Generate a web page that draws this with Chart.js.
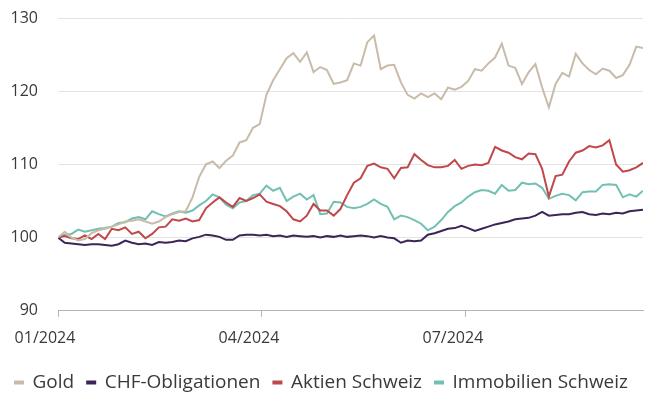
<!DOCTYPE html>
<html>
<head>
<meta charset="utf-8">
<script src="https://cdn.jsdelivr.net/npm/chart.js@4.4.1/dist/chart.umd.min.js"></script>
<style>
  body { margin: 0; background: #fff; }
  #wrap { width: 650px; height: 406px; }
</style>
</head>
<body>
<div id="wrap"><canvas id="perfChart" width="650" height="406"></canvas></div>
<script>
// days since 01.01.2024, one value every 3 days
const days = [];
for (let d = 0; d <= 261; d += 3) days.push(d);

const tickDays = [0, 91, 182];
const tickLabels = ['01/2024', '04/2024', '07/2024'];

const gold = [
  100, 100.8, 100, 99.6, 99.8, 100.6, 101, 101.2, 101.5, 101.8,
  102.2, 102.3, 102.5, 102.2, 101.9, 102.2, 102.8, 103.2, 103.5, 103.6,
  105.5, 108.3, 110, 110.4, 109.5, 110.5, 111.2, 113, 113.3, 115,
  115.5, 119.5, 121.5, 123, 124.5, 125.2, 124, 125.3, 122.6, 123.3,
  122.9, 121, 121.2, 121.5, 123.8, 123.5, 126.7, 127.6, 123, 123.5,
  123.6, 121.2, 119.5, 119, 119.7, 119.2, 119.7, 118.9, 120.5, 120.2,
  120.6, 121.4, 123, 122.8, 123.8, 124.6, 126.5, 123.5, 123.2, 121,
  122.6, 123.7, 120.5, 117.8, 121, 122.5, 122, 125.1, 123.8, 122.9,
  122.3, 123.1, 122.8, 121.8, 122.2, 123.6, 126.1, 125.9
];

const chfBonds = [
  100, 99.3, 99.2, 99.1, 99.0, 99.1, 99.1, 99.0, 98.9, 99.1,
  99.6, 99.3, 99.1, 99.2, 99.0, 99.4, 99.3, 99.4, 99.6, 99.5,
  99.9, 100.1, 100.4, 100.3, 100.1, 99.7, 99.7, 100.3, 100.4, 100.4,
  100.3, 100.4, 100.2, 100.3, 100.1, 100.3, 100.2, 100.1, 100.2, 100.0,
  100.2, 100.1, 100.3, 100.1, 100.2, 100.3, 100.2, 100.0, 100.2, 100.0,
  99.9, 99.3, 99.6, 99.5, 99.6, 100.4, 100.6, 100.9, 101.2, 101.3,
  101.6, 101.3, 100.9, 101.2, 101.5, 101.8, 102.0, 102.2, 102.5, 102.6,
  102.7, 103.0, 103.5, 103.0, 103.1, 103.2, 103.2, 103.4, 103.5, 103.2,
  103.1, 103.3, 103.2, 103.4, 103.3, 103.6, 103.7, 103.8
];

const swissEquities = [
  100, 100.2, 99.9, 99.8, 100.3, 99.8, 100.5, 99.8, 101.2, 101.0,
  101.4, 100.5, 100.8, 99.9, 100.5, 101.4, 101.5, 102.5, 102.3, 102.6,
  102.2, 102.4, 104.0, 104.8, 105.5, 104.8, 104.2, 105.4, 105.0, 105.4,
  105.9, 104.9, 104.6, 104.3, 103.6, 102.5, 102.2, 103.0, 104.6, 103.7,
  103.7, 103.0, 103.9, 105.8, 107.5, 108.1, 109.8, 110.1, 109.6, 109.4,
  108.1, 109.5, 109.6, 111.4, 110.6, 109.9, 109.6, 109.6, 109.8, 110.6,
  109.4, 109.8, 110.0, 109.9, 110.2, 112.4, 111.9, 111.6, 111.0, 110.7,
  111.5, 111.4, 109.4, 105.6, 108.4, 108.6, 110.4, 111.6, 111.9, 112.5,
  112.3, 112.6, 113.3, 110.0, 109.0, 109.2, 109.6, 110.2
];

const swissRealEstate = [
  100, 100.4, 100.5, 101.1, 100.8, 101.0, 101.2, 101.3, 101.5, 102.0,
  102.1, 102.6, 102.8, 102.5, 103.6, 103.2, 102.9, 103.3, 103.6, 103.4,
  103.7, 104.4, 105.0, 105.9, 105.5, 104.5, 104.0, 104.8, 105.0, 105.8,
  106.0, 107.1, 106.4, 106.8, 105.0, 105.6, 106.0, 105.2, 105.8, 103.2,
  103.3, 104.9, 104.8, 104.2, 104.0, 104.2, 104.6, 105.2, 104.6, 104.2,
  102.5, 103.0, 102.8, 102.4, 101.9, 101.0, 101.5, 102.4, 103.5, 104.3,
  104.8, 105.6, 106.2, 106.5, 106.4, 106.0, 107.2, 106.4, 106.5, 107.5,
  107.3, 107.4, 106.8, 105.3, 105.7, 106.0, 105.8, 105.1, 106.2, 106.3,
  106.3, 107.2, 107.3, 107.2, 105.5, 105.9, 105.6, 106.4
];

const seriesNames = ['Gold', 'CHF-Obligationen', 'Aktien Schweiz', 'Immobilien Schweiz'];
const seriesColors = ['#c9bba9', '#3b2557', '#c0474a', '#72c0b3'];
const seriesValues = [gold, chfBonds, swissEquities, swissRealEstate];

const toPoints = values => values.map((v, i) => ({ x: days[i], y: v }));

const fontFamily = "'Open Sans', 'Noto Sans', sans-serif";
const axisFont = { family: fontFamily, size: 16 };
const legendFont = { family: fontFamily, size: 19 };

const ctx = document.getElementById('perfChart').getContext('2d');
const perfChart = new Chart(ctx, {
  type: 'line',
  data: {
    datasets: seriesNames.map((name, i) => ({
      label: name,
      data: toPoints(seriesValues[i]),
      borderColor: seriesColors[i],
      backgroundColor: seriesColors[i],
      borderWidth: 2,
      pointRadius: 0,
      tension: 0
    }))
  },
  options: {
    responsive: false,
    animation: false,
    layout: { padding: { left: 0, right: 7, top: 18, bottom: 4 } },
    plugins: {
      tooltip: { enabled: false },
      legend: {
        position: 'bottom',
        labels: {
          font: legendFont,
          color: '#3a3a3a',
          boxWidth: 8,
          boxHeight: 2,
          padding: 13
        }
      }
    },
    scales: {
      x: {
        type: 'linear',
        min: 0,
        max: 261,
        afterBuildTicks: scale => {
          scale.ticks = tickDays.map(d => ({ value: d }));
        },
        ticks: {
          font: axisFont,
          color: '#3a3a3a',
          padding: 12,
          maxRotation: 0,
          labelOffset: -13,
          callback: value => tickLabels[tickDays.indexOf(value)]
        },
        grid: {
          drawOnChartArea: false,
          drawTicks: true,
          tickLength: 6,
          color: '#b5b5b5'
        },
        border: { color: '#b5b5b5', width: 1 }
      },
      y: {
        min: 90,
        max: 130,
        afterFit: scale => {
          scale.width = 58;
          scale.paddingTop = 0;
          scale.paddingBottom = 0;
        },
        ticks: {
          stepSize: 10,
          font: axisFont,
          color: '#3a3a3a',
          padding: 20
        },
        grid: {
          drawTicks: false,
          color: c => c.tick.value === 90 ? 'rgba(0,0,0,0)' : '#e3e3e3'
        },
        border: { display: false }
      }
    }
  }
});
</script>
</body>
</html>
